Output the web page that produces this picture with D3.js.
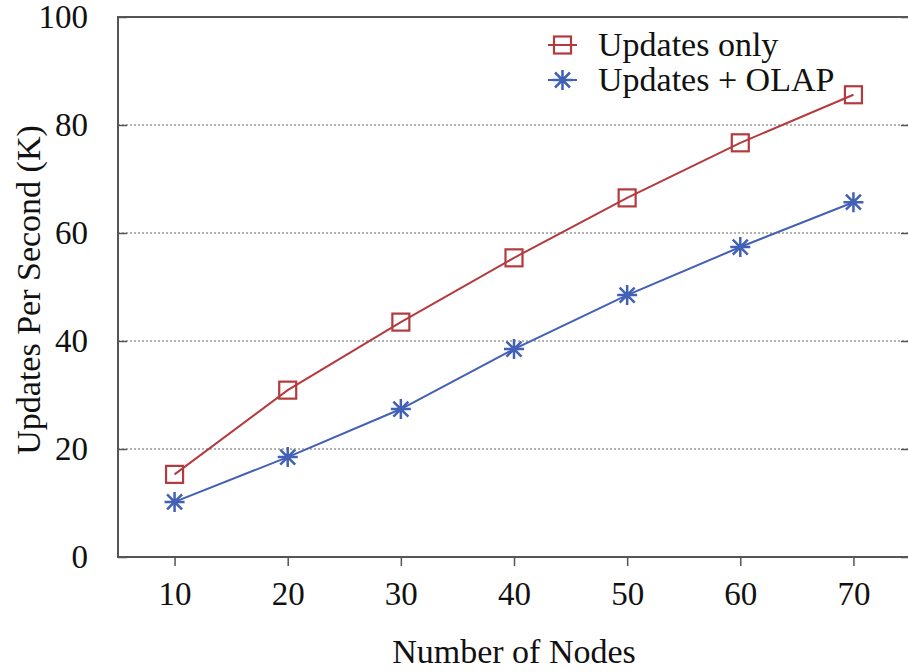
<!DOCTYPE html>
<html>
<head>
<meta charset="utf-8">
<script src="https://cdn.jsdelivr.net/npm/d3@7"></script>
<style>
  body { margin: 0; background: #fff; }
  svg { display: block; }
  text { font-family: "Liberation Serif", "DejaVu Serif", serif; fill: #111; }
</style>
</head>
<body>
<svg id="chart" width="908" height="672"></svg>
<script>
const nodes = [10, 20, 30, 40, 50, 60, 70];
const updatesOnly = [15.3, 30.9, 43.5, 55.4, 66.5, 76.7, 85.6];
const updatesOlap = [10.2, 18.5, 27.4, 38.5, 48.5, 57.4, 65.7];
const yTicks = [0, 20, 40, 60, 80, 100];
const gridTicks = [20, 40, 60, 80];
const seriesNames = ["Updates only", "Updates + OLAP"];

const svg = d3.select("#chart");
const m = { left: 118, top: 17, right: 910, bottom: 557 };
const x = d3.scaleLinear().domain([5, 75]).range([m.left, m.right]);
const y = d3.scaleLinear().domain([0, 100]).range([m.bottom, m.top]);

const red = "#b43a3e", blue = "#4260b4", frame = "#555";

// grid
svg.append("g").selectAll("line").data(gridTicks).join("line")
  .attr("x1", m.left).attr("x2", m.right)
  .attr("y1", d => y(d)).attr("y2", d => y(d))
  .attr("stroke", "#999").attr("stroke-width", 1.3).attr("stroke-dasharray", "2,2");

// frame
svg.append("rect").attr("x", m.left).attr("y", m.top)
  .attr("width", m.right - m.left).attr("height", m.bottom - m.top)
  .attr("fill", "none").attr("stroke", frame).attr("stroke-width", 2);

// y axis (ticks inward)
const yAxis = d3.axisLeft(y).tickValues(yTicks).tickSize(-9).tickPadding(30).tickFormat(d3.format("d"));
const gy = svg.append("g").attr("transform", `translate(${m.left},0)`).call(yAxis);
gy.select(".domain").remove();
gy.selectAll(".tick line").attr("stroke", frame).attr("stroke-width", 1.5);
gy.selectAll(".tick text").attr("font-size", 33).attr("font-family", "Liberation Serif").attr("fill", "#111");

// right side ticks inward
const yAxisR = d3.axisRight(y).tickValues(yTicks).tickSize(-9).tickFormat("");
const gyr = svg.append("g").attr("transform", `translate(${m.right},0)`).call(yAxisR);
gyr.select(".domain").remove();
gyr.selectAll(".tick line").attr("stroke", frame).attr("stroke-width", 1.5);

// x axis (ticks outward)
const xAxis = d3.axisBottom(x).tickValues(nodes).tickSize(9).tickPadding(16).tickFormat(d3.format("d"));
const gx = svg.append("g").attr("transform", `translate(0,${m.bottom})`).call(xAxis);
gx.select(".domain").remove();
gx.selectAll(".tick line").attr("stroke", frame).attr("stroke-width", 1.5);
gx.selectAll(".tick text").attr("font-size", 33).attr("font-family", "Liberation Serif").attr("fill", "#111");

// axis titles
svg.append("text").attr("x", 514).attr("y", 663).attr("text-anchor", "middle")
  .attr("font-size", 34).text("Number of Nodes");
svg.append("text").attr("transform", "translate(40,290) rotate(-90)").attr("text-anchor", "middle")
  .attr("font-size", 34).text("Updates Per Second (K)");

// lines
const line = d3.line().x((d, i) => x(nodes[i])).y(d => y(d));
svg.append("path").datum(updatesOnly).attr("d", line).attr("fill", "none")
  .attr("stroke", red).attr("stroke-width", 2);
svg.append("path").datum(updatesOlap).attr("d", line).attr("fill", "none")
  .attr("stroke", blue).attr("stroke-width", 2);

// markers
function square(g, cx, cy) {
  g.append("rect").attr("x", cx - 8.5).attr("y", cy - 8.5).attr("width", 17).attr("height", 17)
    .attr("fill", "none").attr("stroke", red).attr("stroke-width", 2.2);
}
function star(g, cx, cy) {
  const r = 10, d = 7.5;
  const p = `M${cx - r},${cy}L${cx + r},${cy}M${cx},${cy - r}L${cx},${cy + r}` +
            `M${cx - d},${cy - d}L${cx + d},${cy + d}M${cx - d},${cy + d}L${cx + d},${cy - d}`;
  g.append("path").attr("d", p).attr("stroke", blue).attr("stroke-width", 2.5).attr("fill", "none");
}
const mk = svg.append("g");
updatesOnly.forEach((v, i) => square(mk, x(nodes[i]), y(v)));
updatesOlap.forEach((v, i) => star(mk, x(nodes[i]), y(v)));

// legend
const lg = svg.append("g");
const rows = [{ name: seriesNames[0], c: red, f: square, cy: 45 }, { name: seriesNames[1], c: blue, f: star, cy: 80 }];
rows.forEach(r => {
  lg.append("line").attr("x1", 548).attr("x2", 577).attr("y1", r.cy).attr("y2", r.cy)
    .attr("stroke", r.c).attr("stroke-width", 2);
  r.f(lg, 562.5, r.cy);
  lg.append("text").attr("x", 598).attr("y", r.cy + 11).attr("font-size", 34).text(r.name);
});
</script>
</body>
</html>
